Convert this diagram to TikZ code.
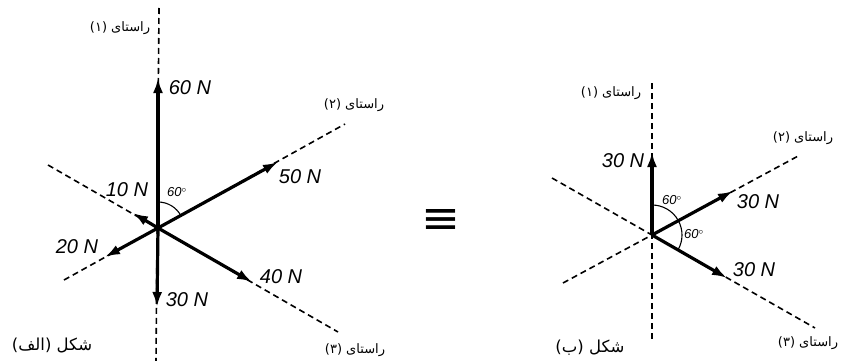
\documentclass[tikz,border=0pt]{standalone}
\usepackage{fontspec}
\setmainfont{Liberation Sans}
\newfontfamily\arabicfont[Script=Arabic]{DejaVu Sans}
\newfontfamily\symfont{DejaVu Sans}
\TeXXeTstate=1
\usetikzlibrary{arrows.meta}
\tikzset{
  force/.style={line width=3.2pt,-{Latex[length=15pt,width=10pt]}},
  guide/.style={line width=1.6pt,dash pattern=on 6pt off 4pt},
  anglearc/.style={line width=1.1pt},
  lab/.style={font=\fontsize{20}{20}\selectfont\itshape,inner sep=0pt},
  anglab/.style={font=\fontsize{13}{13}\selectfont\itshape,inner sep=0pt},
  rast/.style={font=\arabicfont\fontsize{13}{13}\selectfont,inner sep=0pt},
  shekl/.style={font=\arabicfont\fontsize{16.5}{16.5}\selectfont,inner sep=0pt}
}
\begin{document}
\begin{tikzpicture}[x=1pt,y=-1pt]
\useasboundingbox (0,0) rectangle (843,361);
% ---------------- left figure ----------------
\coordinate (A) at (158,228);
\coordinate (A1t) at (159,8);
\coordinate (A1b) at (156,361);
\coordinate (A2r) at (345,124);
\coordinate (A2l) at (64,280);
\coordinate (A3r) at (338,332);
\coordinate (A3l) at (48,165);
\coordinate (T60) at (158,78);
\coordinate (T30) at (157,307);
\coordinate (T50) at (278,162);
\coordinate (T20) at (105,257);
\coordinate (T40) at (252,282);
\coordinate (T10) at (133,213);
\draw[guide] (A1t) -- (A1b);
\draw[guide] (A2l) -- (A2r);
\draw[guide] (A3l) -- (A3r);
\draw[force] (A) -- (T60);
\draw[force] (A) -- (T30);
\draw[force] (A) -- (T50);
\draw[force] (A) -- (T20);
\draw[force] (A) -- (T40);
\draw[force] (A) -- (T10);
\draw[anglearc] (A) ++(90:26pt) arc[start angle=90,end angle=29,radius=26pt];
\node[lab] (l60) at (190,88) {60 N};
\node[lab] (l50) at (300,177) {50 N};
\node[lab] (l10) at (127,190) {10 N};
\node[lab] (l20) at (77,247) {20 N};
\node[lab] (l40) at (281,277) {40 N};
\node[lab] (l30) at (187,300) {30 N};
\node[anglab] (ang1) at (177,192) {60$^{\circ}$};
\node[rast] (r1) at (120,28) {\beginR راستای (۱)\endR};
\node[rast] (r2) at (354,105) {\beginR راستای (۲)\endR};
\node[rast] (r3) at (355,350) {\beginR راستای (۳)\endR};
\node[shekl] (s1) at (52,345) {\beginR شکل (الف)\endR};
% ---------------- equivalence ----------------
\node[inner sep=0pt] (eq) at (441,221) {\resizebox{39pt}{24pt}{\symfont ≡}};
% ---------------- right figure ----------------
\coordinate (B) at (652,235);
\coordinate (B1t) at (652,83);
\coordinate (B1b) at (652,340);
\coordinate (B2r) at (800,155);
\coordinate (B2l) at (563,283);
\coordinate (B3r) at (815,328);
\coordinate (B3l) at (552,178);
\coordinate (U30) at (652,152);
\coordinate (R30) at (733,191);
\coordinate (D30) at (727,278);
\draw[guide] (B1t) -- (B1b);
\draw[guide] (B2l) -- (B2r);
\draw[guide] (B3l) -- (B3r);
\draw[force] (B) -- (U30);
\draw[force] (B) -- (R30);
\draw[force] (B) -- (D30);
\draw[anglearc] (B) ++(90:30pt) arc[start angle=90,end angle=29,radius=30pt];
\draw[anglearc] (B) ++(29:30pt) arc[start angle=29,end angle=-30,radius=30pt];
\node[lab] (m1) at (623,161) {30 N};
\node[lab] (m2) at (758,202) {30 N};
\node[lab] (m3) at (754,270) {30 N};
\node[anglab] (ang2) at (672,200) {60$^{\circ}$};
\node[anglab] (ang3) at (694,234) {60$^{\circ}$};
\node[rast] (q1) at (611,93) {\beginR راستای (۱)\endR};
\node[rast] (q2) at (803,138) {\beginR راستای (۲)\endR};
\node[rast] (q3) at (808,343) {\beginR راستای (۳)\endR};
\node[shekl] (s2) at (590,348) {\beginR شکل (ب)\endR};
\end{tikzpicture}
\end{document}
